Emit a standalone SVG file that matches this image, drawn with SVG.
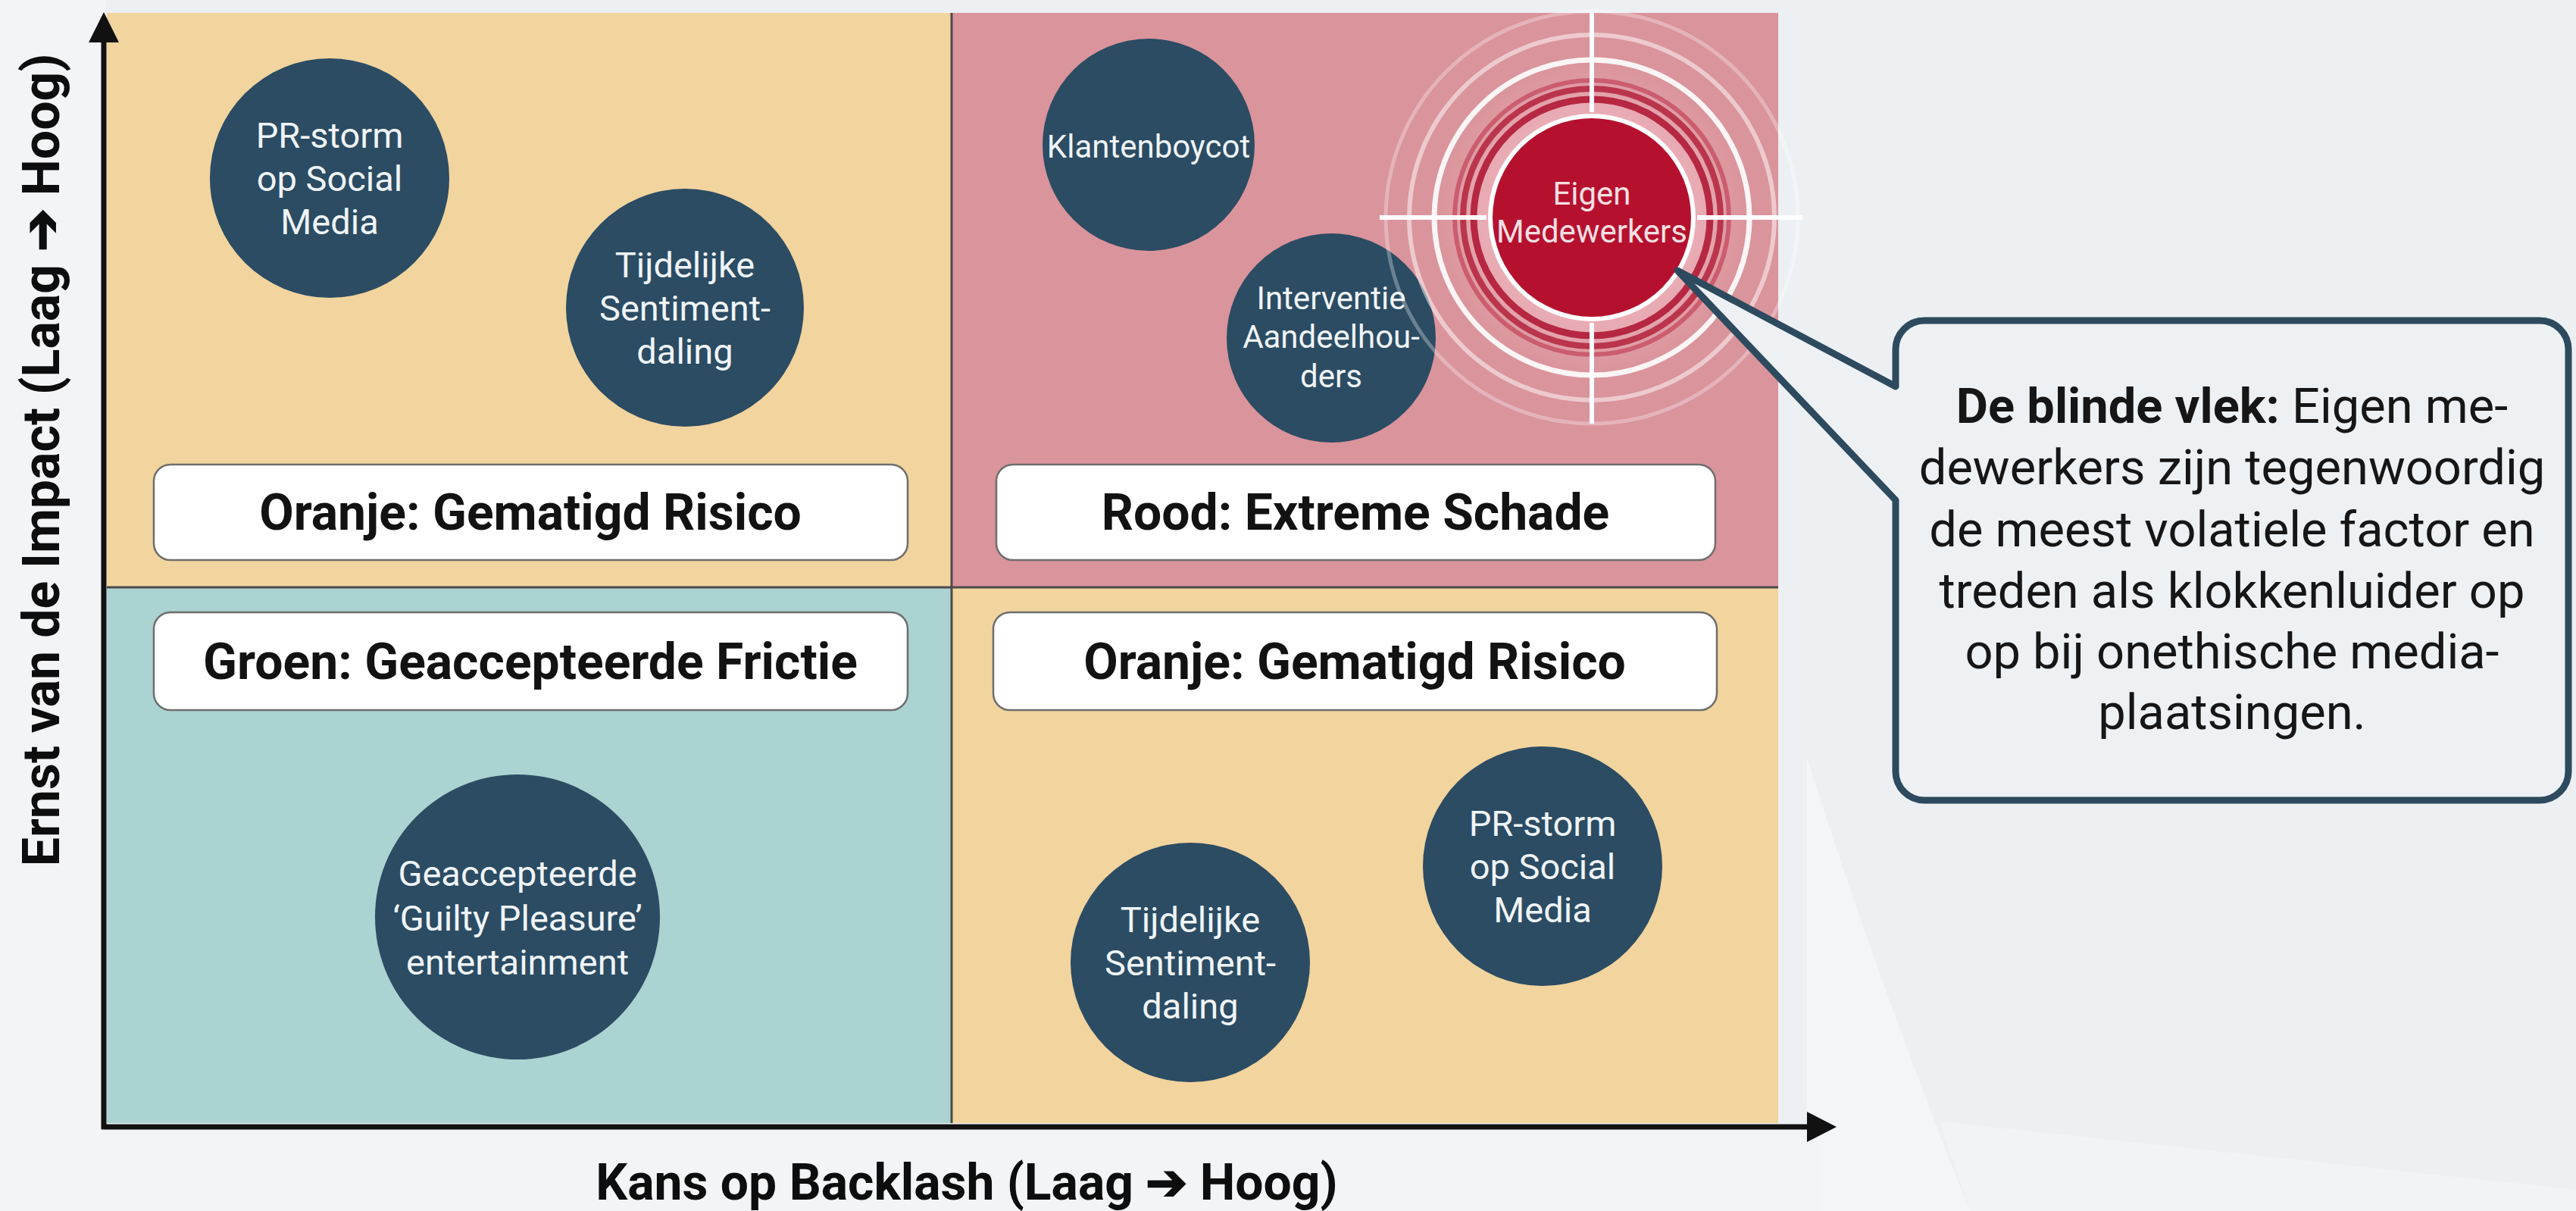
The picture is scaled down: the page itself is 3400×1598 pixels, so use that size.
<svg xmlns="http://www.w3.org/2000/svg" width="3400" height="1598" viewBox="0 0 3400 1598">
<style>
.node{fill:#2b4c63}
.nt{font-family:Roboto,"Liberation Sans",sans-serif;fill:#f0f4f7;text-anchor:middle}
.big{font-size:47px}
.sm{font-size:42px}
.lbox{fill:#ffffff;stroke:#6e6e6e;stroke-width:2.5}
.lt{font-family:Roboto,"Liberation Sans",sans-serif;font-weight:bold;font-size:66px;fill:#121212;text-anchor:middle}
.ax{stroke:#111;stroke-width:7;fill:none}
.axl{font-family:Roboto,"Liberation Sans",sans-serif;font-weight:bold;fill:#0d0d0d;text-anchor:middle}
.bt{font-family:Roboto,"Liberation Sans",sans-serif;font-size:65px;fill:#161616;text-anchor:middle}
.cross{stroke:#ffffff;stroke-width:6}
</style>
<defs>
<radialGradient id="glow" cx="0.5" cy="0.5" r="0.5">
<stop offset="0" stop-color="#f2c2c8"/>
<stop offset="0.7" stop-color="#e8aab2"/>
<stop offset="1" stop-color="#da949c" stop-opacity="0"/>
</radialGradient>
</defs>
<rect x="0" y="0" width="3400" height="1598" fill="#edf0f3"/>
<rect x="0" y="0" width="140" height="1598" fill="#f2f4f6"/>
<path d="M2385 1000 Q2480 1300 2600 1598 L2385 1598 Z" fill="#f3f5f7"/>
<path d="M2560 1480 L3400 1570 L3400 1598 L2600 1598 Z" fill="#f1f3f5"/>
<rect x="0" y="1492" width="2400" height="106" fill="#f2f4f6"/>

<g id="quadrants">
<rect x="141" y="17" width="1115" height="758" fill="#f2d49e"/>
<rect x="1256" y="17" width="1091" height="758" fill="#da949c"/>
<rect x="141" y="775" width="1115" height="707" fill="#abd3d1"/>
<rect x="1256" y="775" width="1091" height="707" fill="#f2d49e"/>
<line x1="1256" y1="17" x2="1256" y2="1482" stroke="#4a4a4a" stroke-width="3"/>
<line x1="141" y1="775" x2="2347" y2="775" stroke="#4a4a4a" stroke-width="3"/>
</g>

<g id="label-tl">
<rect class="lbox" x="203" y="613" width="995" height="126" rx="22"/>
<text class="lt" x="700" y="699">Oranje: Gematigd Risico</text>
</g>
<g id="label-tr">
<rect class="lbox" x="1315" y="613" width="949" height="126" rx="22"/>
<text class="lt" x="1789" y="699">Rood: Extreme Schade</text>
</g>
<g id="label-bl">
<rect class="lbox" x="203" y="808" width="995" height="129" rx="22"/>
<text class="lt" x="700" y="896">Groen: Geaccepteerde Frictie</text>
</g>
<g id="label-br">
<rect class="lbox" x="1311" y="808" width="955" height="129" rx="22"/>
<text class="lt" x="1788" y="896">Oranje: Gematigd Risico</text>
</g>

<g id="node-prstorm-tl">
<circle class="node" cx="435" cy="235" r="158"/>
<text class="nt big" x="435" y="195">PR-storm</text>
<text class="nt big" x="435" y="252">op Social</text>
<text class="nt big" x="435" y="309">Media</text>
</g>
<g id="node-tijdelijk-tl">
<circle class="node" cx="904" cy="406" r="157"/>
<text class="nt big" x="904" y="366">Tijdelijke</text>
<text class="nt big" x="904" y="423">Sentiment-</text>
<text class="nt big" x="904" y="480">daling</text>
</g>
<g id="node-klantenboycot">
<circle class="node" cx="1516" cy="191" r="140"/>
<text class="nt sm" x="1516" y="208">Klantenboycot</text>
</g>
<g id="node-interventie">
<circle class="node" cx="1757" cy="446" r="138"/>
<text class="nt sm" x="1757" y="408">Interventie</text>
<text class="nt sm" x="1757" y="459">Aandeelhou-</text>
<text class="nt sm" x="1757" y="511">ders</text>
</g>

<g id="node-medewerkers">
<circle cx="2101" cy="287" r="215" fill="url(#glow)"/>
<circle cx="2101" cy="287" r="272" fill="none" stroke="#ffffff" stroke-opacity="0.3" stroke-width="5"/>
<circle cx="2101" cy="287" r="241" fill="none" stroke="#ffffff" stroke-opacity="0.5" stroke-width="6"/>
<circle cx="2101" cy="287" r="208" fill="none" stroke="#ffffff" stroke-opacity="0.9" stroke-width="7"/>
<circle cx="2101" cy="287" r="181" fill="none" stroke="#c4485e" stroke-opacity="0.75" stroke-width="6"/>
<circle cx="2101" cy="287" r="170" fill="none" stroke="#b01a36" stroke-opacity="0.8" stroke-width="8"/>
<circle cx="2101" cy="287" r="156" fill="none" stroke="#b01a36" stroke-opacity="0.9" stroke-width="9"/>
<line class="cross" x1="1821" y1="287" x2="1962" y2="287"/>
<line class="cross" x1="2240" y1="287" x2="2379" y2="287"/>
<line class="cross" x1="2101" y1="15" x2="2101" y2="148"/>
<line class="cross" x1="2101" y1="426" x2="2101" y2="559"/>
<circle cx="2101" cy="287" r="137" fill="#ffffff"/>
<circle cx="2101" cy="287" r="131" fill="#b5112f"/>
<text class="nt sm" x="2101" y="270" style="fill:#f6dfe2">Eigen</text>
<text class="nt sm" x="2101" y="320" style="fill:#f6dfe2">Medewerkers</text>
</g>

<g id="node-guilty">
<circle class="node" cx="683" cy="1210" r="188"/>
<text class="nt big" x="683" y="1169">Geaccepteerde</text>
<text class="nt big" x="683" y="1228">‘Guilty Pleasure’</text>
<text class="nt big" x="683" y="1286">entertainment</text>
</g>
<g id="node-tijdelijk-br">
<circle class="node" cx="1571" cy="1270" r="158"/>
<text class="nt big" x="1571" y="1230">Tijdelijke</text>
<text class="nt big" x="1571" y="1287">Sentiment-</text>
<text class="nt big" x="1571" y="1344">daling</text>
</g>
<g id="node-prstorm-br">
<circle class="node" cx="2036" cy="1143" r="158"/>
<text class="nt big" x="2036" y="1103">PR-storm</text>
<text class="nt big" x="2036" y="1160">op Social</text>
<text class="nt big" x="2036" y="1217">Media</text>
</g>

<g id="callout">
<path d="M2502 510 L2502 461 A38 38 0 0 1 2540 423 L3352 423 A38 38 0 0 1 3390 461 L3390 1018 A38 38 0 0 1 3352 1056 L2540 1056 A38 38 0 0 1 2502 1018 L2502 660 L2214 357 Z" fill="#eef1f4" stroke="#2d4a5e" stroke-width="9" stroke-linejoin="round"/>
<text class="bt" x="2946" y="558"><tspan font-weight="bold">De blinde vlek:</tspan> Eigen me-</text>
<text class="bt" x="2946" y="639">dewerkers zijn tegenwoordig</text>
<text class="bt" x="2946" y="721">de meest volatiele factor en</text>
<text class="bt" x="2946" y="802">treden als klokkenluider op</text>
<text class="bt" x="2946" y="882">op bij onethische media-</text>
<text class="bt" x="2946" y="962">plaatsingen.</text>
</g>

<g id="connectors">
<line class="ax" x1="137" y1="1490" x2="137" y2="52"/>
<polygon points="137,16 117,56 157,56" fill="#111"/>
<line class="ax" x1="134" y1="1487" x2="2388" y2="1487"/>
<polygon points="2424,1487 2385,1467 2385,1507" fill="#111"/>
</g>

<g id="axis-labels">
<text class="axl" font-size="66" x="1276" y="1583">Kans op Backlash (Laag ➔ Hoog)</text>
<text class="axl" font-size="68" transform="translate(78 607) rotate(-90)">Ernst van de Impact (Laag ➔ Hoog)</text>
</g>
</svg>
